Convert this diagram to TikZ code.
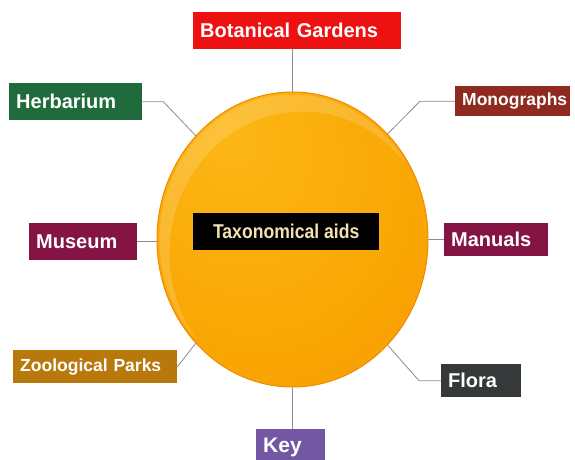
\documentclass[tikz,border=0pt]{standalone}
\usepackage{fontspec}
\setmainfont{Liberation Sans}
\newfontfamily\narrowsans[FakeStretch=0.88]{Liberation Sans}
\usetikzlibrary{shapes.geometric}

\definecolor{botred}{HTML}{EE1111}
\definecolor{herbgreen}{HTML}{1F6B3B}
\definecolor{monored}{HTML}{8E2A20}
\definecolor{wine}{HTML}{841443}
\definecolor{zoobrown}{HTML}{B8780C}
\definecolor{floragray}{HTML}{363939}
\definecolor{keypurple}{HTML}{7457A2}
\definecolor{aidstext}{HTML}{F2E0B0}
\definecolor{linkgray}{HTML}{8C8C8C}
\definecolor{ballin}{HTML}{FCB716}
\definecolor{ballmid}{HTML}{F9A603}
\definecolor{ballout}{HTML}{F28E00}
\definecolor{ballrim}{HTML}{F08A00}

\pgfdeclareradialshading{ballshade}{\pgfpoint{-12bp}{18bp}}{%
  color(0bp)=(ballin); color(30bp)=(ballmid); color(62bp)=(ballout); color(70bp)=(ballout)}

\tikzset{
  tag/.style={anchor=north west, inner xsep=7pt, inner ysep=0pt, align=left,
    text=white, font=\bfseries\fontsize{20}{24}\selectfont},
  tagsm/.style={tag, font=\bfseries\fontsize{17.5}{21}\selectfont},
  link/.style={draw=linkgray, line width=0.8pt},
}

\begin{document}
\begin{tikzpicture}[x=1pt, y=-1pt]
    \useasboundingbox (0,0) rectangle (575,460);

    % 中央の球
    \node[ellipse, minimum width=271pt, minimum height=295pt, inner sep=0pt,
      shading=ballshade, draw=ballrim, line width=1pt] (ball) at (292.5,239.5) {};
    \begin{scope}
      \clip (ball.center) ellipse (133 and 145);
      \fill[white, opacity=.16, even odd rule]
        (ball.center) ellipse (133 and 145) (302.5,253.5) ellipse (133 and 142);
    \end{scope}

    % 中央のラベル
    \node[anchor=north west, fill=black, minimum width=186pt, minimum height=37pt,
      inner sep=0pt, text=aidstext, font=\narrowsans\bfseries\fontsize{20}{24}\selectfont]
      (aids) at (193,213) {Taxonomical aids};

    % 周りのラベル
    \node[tag, fill=botred, text width=194pt, minimum height=37pt] (bot) at (193,12) {Botanical Gardens};
    \node[tag, fill=herbgreen, text width=119pt, minimum height=37pt] (herb) at (9,83) {Herbarium};
    \node[tagsm, fill=monored, text width=101pt, minimum height=30pt] (mono) at (455,86) {Monographs};
    \node[tag, fill=wine, text width=94pt, minimum height=37pt] (museum) at (29,223) {Museum};
    \node[tag, fill=wine, text width=90pt, minimum height=33pt] (manuals) at (444,223) {Manuals};
    \node[tagsm, fill=zoobrown, text width=150pt, minimum height=33pt] (zoo) at (13,350) {Zoological Parks};
    \node[tag, fill=floragray, text width=66pt, minimum height=33pt] (flora) at (441,364) {Flora};
    \node[tag, fill=keypurple, text width=55pt, minimum height=37pt,
      font=\bfseries\fontsize{21}{25}\selectfont] (key) at (256,429) {Key};

    % 線
    \draw[link] (ball.north) -- (ball.north |- bot.south);
    \draw[link] (ball.south) -- (ball.south |- key.north);
    \draw[link] (museum.east) -- (museum.east -| ball.west);
    \draw[link] (manuals.west) -- (manuals.west -| ball.east);
    \draw[link] (herb.east) -- ++(21,0) -- (ball.133);
    \draw[link] (mono.west) -- ++(-35,0) -- (ball.48);
    \draw[link] (zoo.east) -- (ball.227);
    \draw[link] (flora.west) -- ++(-22,0) -- (ball.312);
  \end{tikzpicture}
\end{document}
